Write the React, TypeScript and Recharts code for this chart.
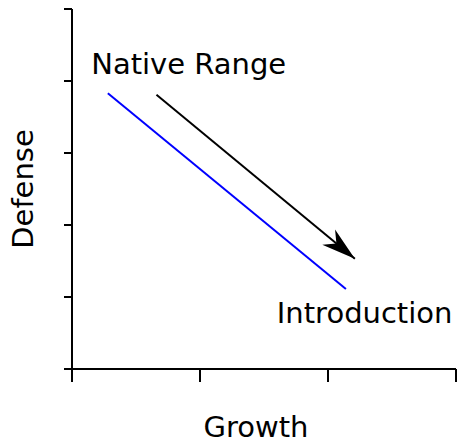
import { Line, LineChart, ReferenceDot, XAxis, YAxis, Label } from 'recharts'

// data-space values (x: 0..3, y: 0..5)
const xTicks = [0, 1, 2, 3]
const yTicks = [0, 1, 2, 3, 4, 5]

const tradeoffX = [0.28, 2.14]
const tradeoffY = [3.83, 1.11]

const arrowX = [0.66, 2.21]
const arrowY = [3.81, 1.53]

const noteText = ['Native Range', 'Introduction']
const noteX = [0.15, 1.6]
const noteY = [4.1, 0.64]

const tradeoff = tradeoffX.map((x, i) => ({ x, y: tradeoffY[i] }))
const arrow = arrowX.map((x, i) => ({ x, y: arrowY[i] }))

const FONT = '"DejaVu Sans", sans-serif'

function ArrowHead(props: any) {
  const { cx, cy, index, points } = props
  if (!points || index !== points.length - 1) return <g key={`ah-${index}`} />
  const prev = points[index - 1]
  const deg = (Math.atan2(cy - prev.y, cx - prev.x) * 180) / Math.PI
  return (
    <path
      key={`ah-${index}`}
      d="M0,0 L-34,-10 L-24,0 L-34,10 Z"
      fill="#000"
      transform={`translate(${cx},${cy}) rotate(${deg})`}
    />
  )
}

const noteShape = (text: string) => (p: any) => (
  <text x={p.cx} y={p.cy} fontFamily={FONT} fontSize={29} fill="#000">
    {text}
  </text>
)

export default function App() {
  return (
    <div style={{ position: 'absolute', left: 0, top: 0, background: '#fff' }}>
      <LineChart width={457} height={443} margin={{ top: 9, right: 1, bottom: 0, left: 0 }}>
        <XAxis
          type="number"
          dataKey="x"
          domain={[0, 3]}
          ticks={xTicks}
          tickFormatter={() => ''}
          height={74}
          tickSize={13}
          axisLine={{ stroke: '#000', strokeWidth: 2 }}
          tickLine={{ stroke: '#000', strokeWidth: 2 }}
        >
          <Label
            content={({ viewBox }: any) => (
              <text x={viewBox.x + 184} y={viewBox.y + 68} textAnchor="middle" fontFamily={FONT} fontSize={29} fill="#000">
                Growth
              </text>
            )}
          />
        </XAxis>
        <YAxis
          type="number"
          dataKey="y"
          domain={[0, 5]}
          ticks={yTicks}
          tickFormatter={() => ''}
          width={72}
          tickSize={8}
          axisLine={{ stroke: '#000', strokeWidth: 2 }}
          tickLine={{ stroke: '#000', strokeWidth: 2 }}
        >
          <Label
            content={({ viewBox }: any) => {
              const x = viewBox.x + 33
              const y = viewBox.y + viewBox.height / 2
              return (
                <text x={x} y={y} transform={`rotate(-90 ${x} ${y})`} textAnchor="middle" fontFamily={FONT} fontSize={29} fill="#000">
                  Defense
                </text>
              )
            }}
          />
        </YAxis>
        <Line data={tradeoff} dataKey="y" type="linear" stroke="#0000ff" strokeWidth={2} dot={false} isAnimationActive={false} />
        <Line data={arrow} dataKey="y" type="linear" stroke="#000" strokeWidth={2} dot={ArrowHead} activeDot={false} isAnimationActive={false} />
        {noteText.map((t, i) => (
          <ReferenceDot key={t} x={noteX[i]} y={noteY[i]} r={0} shape={noteShape(t)} />
        ))}
      </LineChart>
    </div>
  )
}
